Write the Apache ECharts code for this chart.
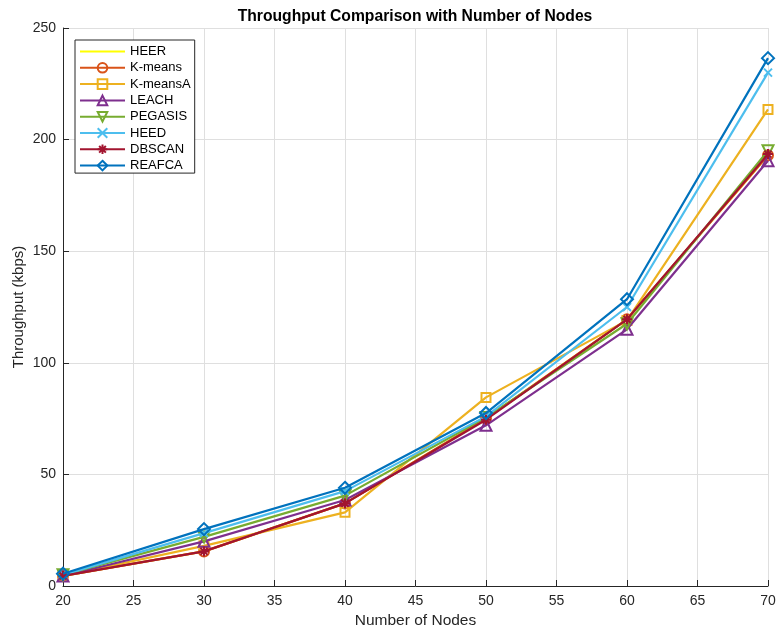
<!DOCTYPE html>
<html><head><meta charset="utf-8">
<script src="https://cdn.jsdelivr.net/npm/echarts@6/dist/echarts.min.js"></script>
<style>html,body{margin:0;padding:0;background:#fff}#c{width:776px;height:628px}</style>
</head><body><div id="c"></div>
<script>
const nodes = [20, 30, 40, 50, 60, 70];
const heer    = [4.5, 15.5, 37.0, 75.0, 119.5, 193.0];
const kmeans  = [4.5, 15.5, 37.0, 75.0, 119.5, 193.0];
const kmeansA = [4.5, 18.0, 33.0, 84.5, 119.0, 213.5];
const leach   = [4.5, 20.0, 38.5, 72.0, 115.0, 190.5];
const pegasis = [5.0, 22.0, 40.5, 75.5, 117.5, 195.0];
const heed    = [5.0, 23.7, 42.5, 76.0, 125.0, 230.0];
const dbscan  = [4.5, 15.5, 37.0, 74.5, 119.5, 193.5];
const reafca  = [5.5, 25.5, 44.0, 77.5, 128.5, 236.5];

const names = ['HEER','K-means','K-meansA','LEACH','PEGASIS','HEED','DBSCAN','REAFCA'];
const values = [heer, kmeans, kmeansA, leach, pegasis, heed, dbscan, reafca];
const colors = ['#FFFF00','#D95319','#EDB120','#7E2F8E','#77AC30','#4DBEEE','#A2142F','#0072BD'];
const XPATH = 'path://M0,0L10,10M10,0L0,10';
const STAR = 'path://M5,0L5,10M0,5L10,5M1.5,1.5L8.5,8.5M8.5,1.5L1.5,8.5';
const symbols = ['circle','circle','rect','triangle','triangle',XPATH,STAR,'diamond'];
const sizes = [0, 10, 9, 11, 11, 8, 10, 12];
const rotates = [0,0,0,0,180,0,0,0];

const series = names.map((n, i) => {
  let itemStyle;
  if (i === 0) itemStyle = {color: 'rgba(0,0,0,0)', borderColor: 'rgba(0,0,0,0)', borderWidth: 0};
  else if (i === 5 || i === 6) itemStyle = {color: colors[i], borderColor: colors[i], borderWidth: 2};
  else itemStyle = {color: 'rgba(255,255,255,0)', borderColor: colors[i], borderWidth: 2};
  return {
    name: n,
    type: 'line',
    data: nodes.map((x, j) => [x, values[i][j]]),
    symbol: symbols[i],
    symbolSize: sizes[i],
    symbolRotate: rotates[i],
    showSymbol: i !== 0,
    color: colors[i],
    lineStyle: {width: 2.2, color: colors[i]},
    itemStyle: itemStyle,
    emphasis: {disabled: true},
    z: 2 + i
  };
});

const chart = echarts.init(document.getElementById('c'), null, {renderer: 'canvas'});
chart.setOption({
  animation: false,
  backgroundColor: '#fff',
  textStyle: {fontFamily: 'Liberation Sans, Arial, sans-serif'},
  title: {
    text: 'Throughput Comparison with Number of Nodes',
    left: 415, top: 9, textAlign: 'center', padding: 0,
    textStyle: {fontSize: 15.7, fontWeight: 'bold', color: '#000', fontFamily: 'Liberation Sans, Arial, sans-serif'}
  },
  grid: {left: 63, right: 8, top: 28, bottom: 42, containLabel: false, outerBoundsMode: 'none'},
  legend: {
    orient: 'vertical', left: 75, top: 40,
    data: names,
    itemWidth: 45, itemHeight: 12, itemGap: 3.3,
    padding: [5, 4, 1, 4],
    backgroundColor: '#fff', borderColor: '#262626', borderWidth: 1,
    textStyle: {fontSize: 13, color: '#000', fontFamily: 'Liberation Sans, Arial, sans-serif'}
  },
  xAxis: {
    type: 'value', min: 20, max: 70, interval: 5,
    name: 'Number of Nodes', nameLocation: 'middle', nameGap: 27, nameMoveOverlap: false,
    nameTextStyle: {fontSize: 15.5, color: '#262626'},
    axisLine: {show: true, onZero: false, lineStyle: {color: '#262626', width: 1}},
    axisTick: {show: true, inside: true, length: 6, lineStyle: {color: '#262626'}},
    axisLabel: {fontSize: 14, color: '#262626', margin: 8},
    splitLine: {show: true, lineStyle: {color: '#DFDFDF', width: 1}}
  },
  yAxis: {
    type: 'value', min: 0, max: 250, interval: 50,
    name: 'Throughput (kbps)', nameLocation: 'middle', nameGap: 37, nameMoveOverlap: false,
    nameTextStyle: {fontSize: 15, color: '#262626'},
    axisLine: {show: true, lineStyle: {color: '#262626', width: 1}},
    axisTick: {show: true, inside: true, length: 6, lineStyle: {color: '#262626'}},
    axisLabel: {fontSize: 14, color: '#262626', margin: 7},
    splitLine: {show: true, lineStyle: {color: '#DFDFDF', width: 1}}
  },
  series: series
});
</script></body></html>
